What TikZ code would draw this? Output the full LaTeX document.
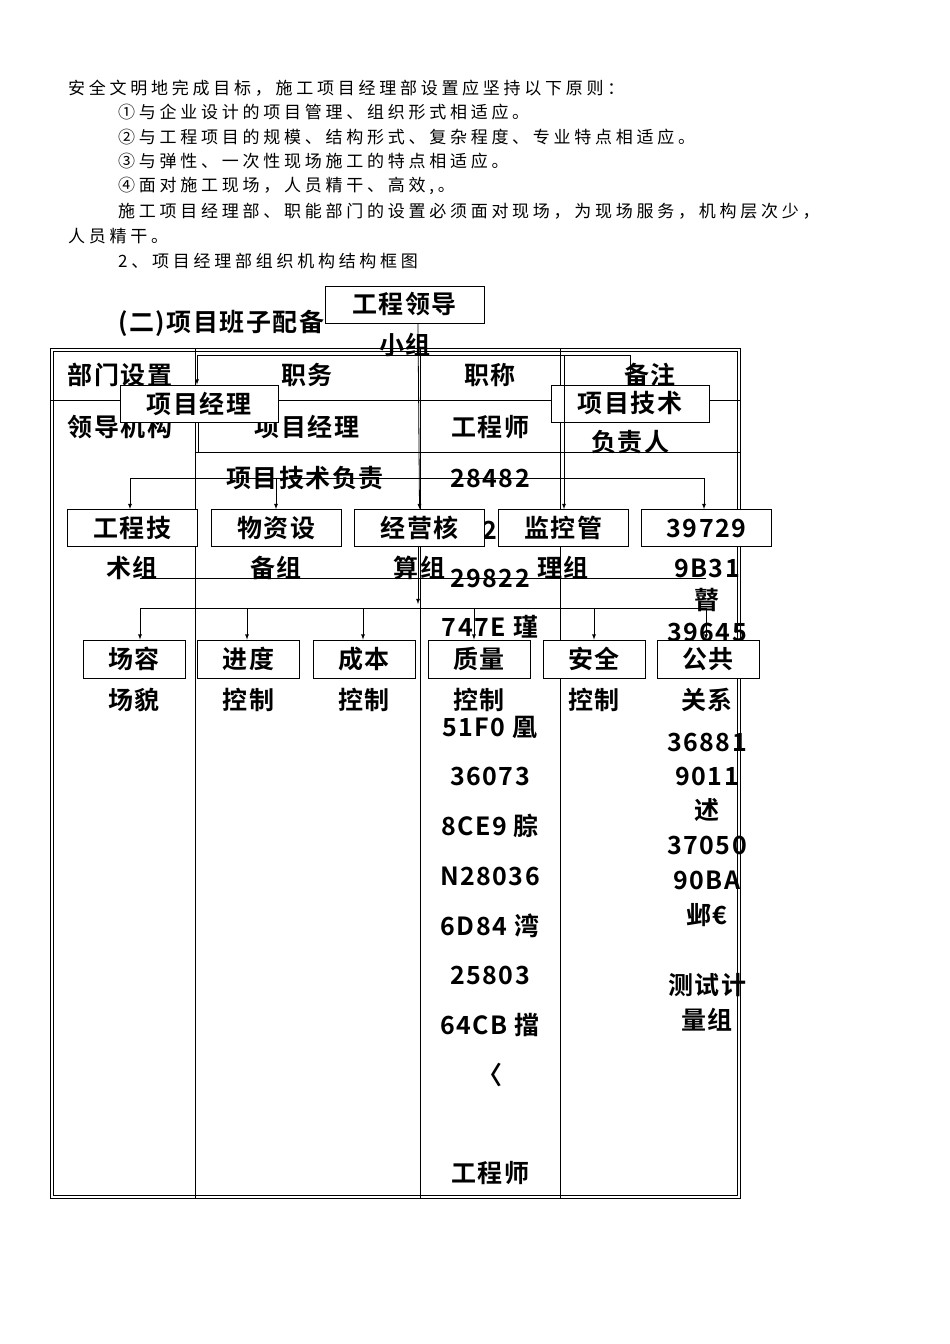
\documentclass[tikz,border=0pt]{standalone}
\usepackage{fontspec}
\setmainfont{Liberation Serif}
\newfontfamily\cjkb{Noto Sans CJK SC}[LetterSpace=22]
\newfontfamily\cjkw{Noto Sans CJK SC}[BoldFont={* Bold},LetterSpace=6]
\begin{document}
\begin{tikzpicture}[x=1pt,y=-1pt,
  body/.style={anchor=west,inner sep=0pt,font=\cjkb\fontsize{17}{17}\selectfont},
  big/.style={inner sep=0pt,font=\cjkw\bfseries\fontsize{25}{25}\selectfont},
  obox/.style={draw,fill=white,thick,minimum height=37pt,inner sep=0pt,font=\cjkw\bfseries\fontsize{25}{25}\selectfont},
  arr/.style={-latex,thick},
  ln/.style={thick}]
\useasboundingbox[fill=white] (0,0) rectangle (950,1344);
% top text
\node[body] (t1) at (68,88) {安全文明地完成目标，施工项目经理部设置应坚持以下原则：};
\node[body] (t2) at (118,112) {①与企业设计的项目管理、组织形式相适应。};
\node[body] (t3) at (118,137) {②与工程项目的规模、结构形式、复杂程度、专业特点相适应。};
\node[body] (t4) at (118,161) {③与弹性、一次性现场施工的特点相适应。};
\node[body] (t5) at (118,186) {④面对施工现场，人员精干、高效,。};
\node[body] (t6) at (118,211) {施工项目经理部、职能部门的设置必须面对现场，为现场服务，机构层次少，};
\node[body] (t7) at (68,236) {人员精干。};
\node[body] (t8) at (118,261) {2、项目经理部组织机构结构框图};
\node[big,anchor=west] (h) at (118,323) {(二)项目班子配备};
% table
\draw[ln] (50,348) rectangle (740,1198);
\draw (53,351) rectangle (737,1195);
\draw[ln] (195,348) -- (195,1198);
\draw[ln] (420,348) -- (420,1198);
\draw[ln] (560,348) -- (560,1198);
\draw[ln] (50,400) -- (740,400);
\draw[ln] (195,452) -- (740,452);
\draw (198,400) -- (198,452);
% table texts
\node[big] (c1) at (120,375) {部门设置};
\node[big] (c2) at (307,375) {职务};
\node[big] (c3) at (490,375) {职称};
\node[big] (c4) at (650,375) {备注};
\node[big] (r1) at (120,427) {领导机构};
\node[big] (r2) at (307,427) {项目经理};
\node[big] (r3) at (490,427) {工程师};
\node[big] (r4) at (305,478) {项目技术负责};
\foreach \t/\y [count=\i] in {28482/478,2/530,29822/578,747E 瑾/627,20970/668,51F0 凰/727,36073/776,8CE9 腙/826,N28036/876,6D84 湾/926,25803/975,64CB 擋/1025,〈/1075,工程师/1173}
  \node[big] (a\i) at (490,\y) {\t};
\foreach \t/\y [count=\i] in {9B31/568,瞽/600,39645/632,关系/700,36881/742,9011/776,述/810,37050/845,90BA/880,邺€/915,测试计/985,量组/1020}
  \node[big] (b\i) at (707,\y) {\t};
% level 1
\node[obox,minimum width=159pt] (lead) at (404.5,304.5) {工程领导};
\node[big] (leadb) at (405,345) {小组};
\node[obox,minimum width=158pt] (pm) at (199,403.5) {项目经理};
\node[obox,minimum width=158pt] (tech) at (630,403.5) {项目技术};
\node[big] (techb) at (630,442) {负责人};
\coordinate (j1) at (418,355);
\coordinate (j1l) at (197,355);
\coordinate (j1r) at (630,355);
\draw[ln] (j1l) -- (j1r);
\draw[arr] (j1l) -- (pm.north west -| j1l);
\draw[ln] (j1r) -- (tech.north);
% level 2
\foreach \x/\a/\b [count=\i] in {132/工程技/术组,276/物资设/备组,419.5/经营核/算组,563/监控管/理组,706.5/39729/}{
  \node[obox,minimum width=130pt] (m\i) at (\x,528) {\a};
  \node[big] (mb\i) at (\x,568) {\b};
}
\draw[arr] (lead.south -| j1) -- (m3.north);
\coordinate (k1) at (130,478);
\coordinate (k2) at (704,478);
\draw[ln] (k1) -- (k2);
\draw[arr] (k1) -- (m1.north -| k1);
\draw[arr] (276,478) -- (m2.north);
\draw[arr] (564,355) -- (m4.north -| 564,0);
\draw[arr] (k2) -- (m5.north -| k2);
% level 3
\coordinate (n1) at (140,578);
\coordinate (n2) at (706,578);
\draw (n1) -- (n2);
\draw[arr] (m3.south -| j1) -- (418,604);
\coordinate (p1) at (140,608);
\coordinate (p2) at (706,608);
\draw[ln] (p1) -- (p2);
\foreach \x/\a/\b [count=\i] in {134/场容/场貌,248.5/进度/控制,364/成本/控制,479/质量/控制,594/安全/控制,708/公共/}{
  \node[obox,minimum width=102pt,minimum height=38pt] (s\i) at (\x,659) {\a};
  \node[big] (sb\i) at (\x,700) {\b};
}
\foreach \x [count=\i] in {140,247,363,474,594,706}
  \draw[arr] (\x,608) -- (s\i.north -| \x,0);
\end{tikzpicture}
\end{document}
